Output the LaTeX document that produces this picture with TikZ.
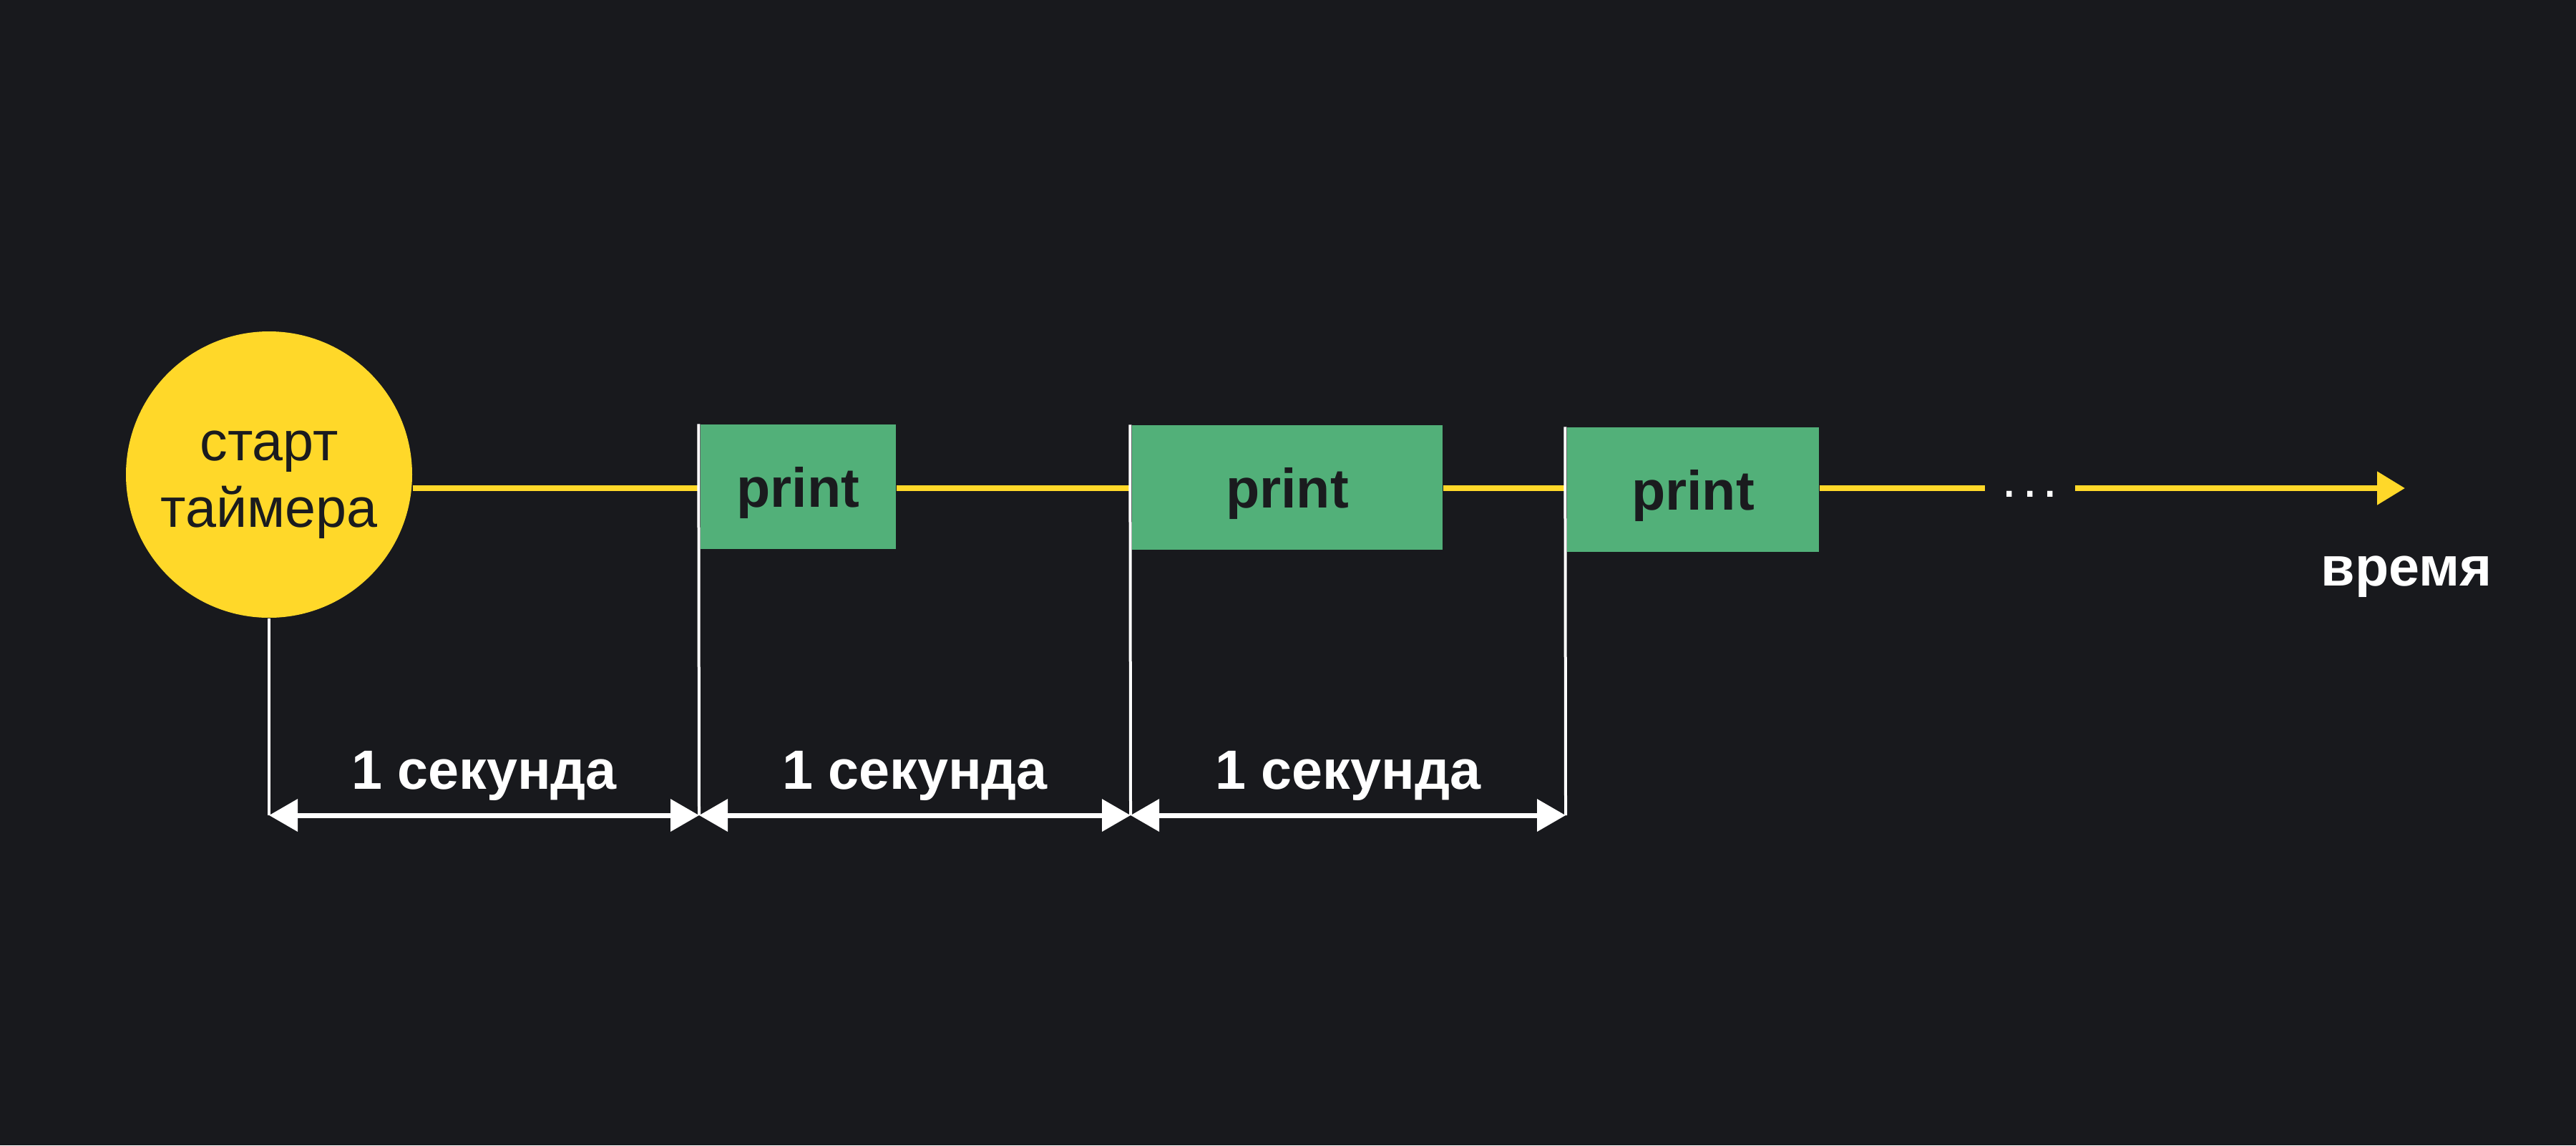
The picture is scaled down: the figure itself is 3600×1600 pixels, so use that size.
\documentclass[tikz,border=0pt]{standalone}
\usepackage{fontspec}
\setmainfont{Liberation Sans}
\usetikzlibrary{arrows.meta}
\definecolor{bg}{RGB}{24,25,29}
\definecolor{timer}{RGB}{255,216,41}
\definecolor{boxgreen}{RGB}{82,176,121}
\definecolor{ink}{RGB}{26,27,30}

\begin{document}
\begin{tikzpicture}[x=0.1mm, y=-0.1mm,
        timeline/.style={timer, line width=0.8mm},
        tick/.style={white, line width=0.4mm},
        span/.style={white, line width=0.7mm,
            {Triangle[length=4mm,width=4.4mm]}-{Triangle[length=4mm,width=4.4mm]}},
        printbox/.style={fill=boxgreen, inner sep=0, minimum height=17.4mm, text depth=0pt,
            text=ink, font=\fontsize{22}{26}\selectfont\bfseries},
        lbl/.style={white, font=\fontsize{22}{26}\selectfont\bfseries, anchor=base}]
        \fill[bg] (0,0) rectangle (3600,1600);
        \useasboundingbox (0,0) rectangle (3600,1600);

        % timer start and the three calls
        \node[circle, fill=timer, minimum size=40mm, inner sep=0] (start) at (376,663) {};
        \node[align=center, text=ink, font=\fontsize{22}{26.5}\selectfont] (startlbl)
            at ([yshift=-1.4mm]start.center) {старт\\таймера};
        \node[printbox, minimum width=27.3mm] (print1) at (1115.5,680) {print};
        \node[printbox, minimum width=43.4mm] (print2) at (1799,681) {print};
        \node[printbox, minimum width=35.2mm] (print3) at (2366,684) {print};

        % time axis
        \coordinate (gap1) at (2774,682);
        \coordinate (gap2) at (2900,682);
        \coordinate (tip) at (3361,682);
        \draw[timeline] (start.east |- gap1) -- (print1.west |- gap1);
        \draw[timeline] (print1.east |- gap1) -- (print2.west |- gap1);
        \draw[timeline] (print2.east |- gap1) -- (print3.west |- gap1);
        \draw[timeline] (print3.east |- gap1) -- (gap1);
        \node[white, anchor=base, font=\fontsize{22}{26}\selectfont] (dots) at (2837,694)
            {.\kern0.09em.\kern0.09em.};
        \draw[timeline, -{Triangle[length=3.9mm,width=4.5mm]}] (gap2) -- (tip);
        \node[lbl] (time) at (3363,818) {время};

        % one second marks
        \coordinate (t0) at (376,1139);
        \coordinate (t1) at (977,1139);
        \coordinate (t2) at (1580,1139);
        \coordinate (t3) at (2188,1139);
        \draw[tick] (start.south) -- (t0);
        \draw[tick] (print1.north west) ++(-2,0) -- (t1);
        \draw[tick] (print2.north west) ++(-2,0) -- (t2);
        \draw[tick] (print3.north west) ++(-2,0) -- (t3);
        \draw[span] (t0) -- (t1) node[lbl, midway, yshift=3.7mm] (sec1) {1 секунда};
        \draw[span] (t1) -- (t2) node[lbl, midway, yshift=3.7mm] (sec2) {1 секунда};
        \draw[span] (t2) -- (t3) node[lbl, midway, yshift=3.7mm] (sec3) {1 секунда};
\end{tikzpicture}
\end{document}
